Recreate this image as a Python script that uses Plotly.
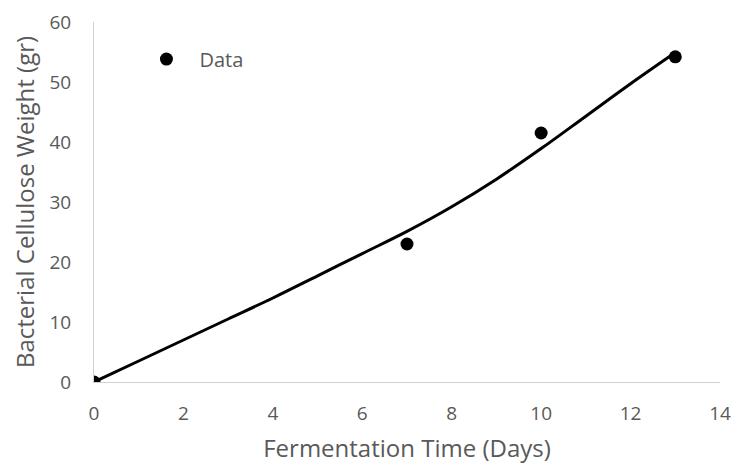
import plotly.graph_objects as go

# Measured data
days = [0, 7, 10, 13]
weight = [0, 23, 41.5, 54.2]

# Fitted curve
curve_days = [0, 1, 2, 3, 4, 5, 6, 7, 8, 9, 10, 11, 12, 13]
curve_weight = [0, 3.5, 7.0, 10.5, 14.0, 17.7, 21.4, 25.1, 29.2, 33.8, 38.9, 44.3, 49.7, 54.9]

x_ticks = [0, 2, 4, 6, 8, 10, 12, 14]
y_ticks = [0, 10, 20, 30, 40, 50, 60]

FONT = "Open Sans"
GRAY = "#595959"

fig = go.Figure()
fig.add_trace(go.Scatter(
    x=curve_days, y=curve_weight, mode="lines", name="Model",
    line=dict(color="black", width=3, shape="spline"), showlegend=False,
))
fig.add_trace(go.Scatter(
    x=days, y=weight, mode="markers", name="Data",
    marker=dict(color="black", size=13),
))

fig.update_layout(
    width=736, height=464,
    margin=dict(l=94, r=16, t=22, b=82, autoexpand=False),
    paper_bgcolor="white", plot_bgcolor="white",
    font=dict(family=FONT, size=19, color=GRAY),
    legend=dict(x=0.063, y=0.897, xanchor="left", yanchor="middle",
                bgcolor="rgba(0,0,0,0)", itemwidth=56,
                font=dict(family=FONT, size=20, color=GRAY)),
    xaxis=dict(
        range=[0, 14], tickvals=x_ticks, showgrid=False, zeroline=False,
        showline=True, linecolor="#d0d0d0", linewidth=1, automargin=False,
        ticks="", ticklabelstandoff=14,
        title=dict(text="Fermentation Time (Days)", standoff=22,
                   font=dict(family=FONT, size=24, color=GRAY)),
    ),
    yaxis=dict(
        range=[0, 60], tickvals=y_ticks, showgrid=False, zeroline=False,
        showline=True, linecolor="#d0d0d0", linewidth=1, automargin=False,
        ticks="", ticklabelstandoff=18,
        title=dict(text="Bacterial Cellulose Weight (gr)", standoff=8,
                   font=dict(family=FONT, size=24, color=GRAY)),
    ),
)
# remove the default page margin so the figure fills the window exactly
fig.write_html("out.html", config={"displayModeBar": False},
               post_script="document.body.style.margin='0';")
